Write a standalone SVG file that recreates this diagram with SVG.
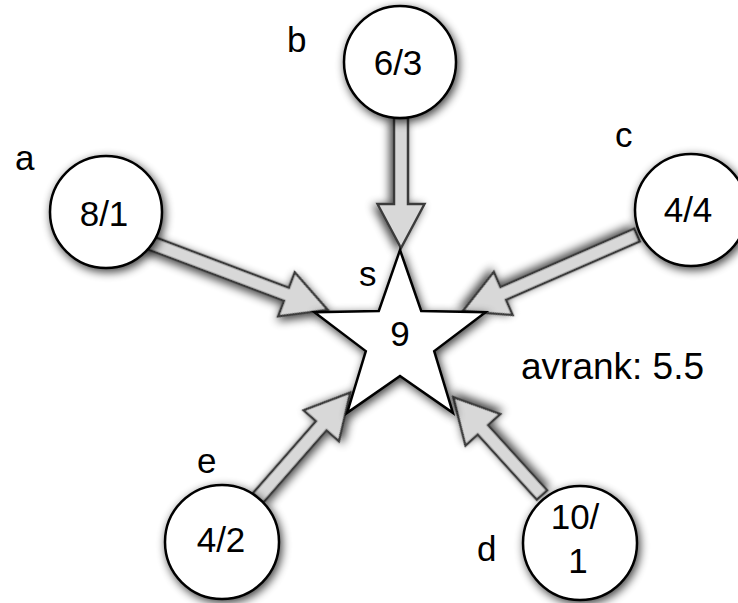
<svg xmlns="http://www.w3.org/2000/svg" width="738" height="603" viewBox="0 0 738 603">
  <defs>
    <filter id="shadow" x="-30%" y="-30%" width="160%" height="160%">
      <feGaussianBlur in="SourceAlpha" stdDeviation="5"/>
      <feOffset dx="2" dy="3" result="b"/>
      <feComponentTransfer><feFuncA type="linear" slope="0.75"/></feComponentTransfer>
      <feMerge><feMergeNode/><feMergeNode in="SourceGraphic"/></feMerge>
    </filter>
  </defs>
  <style>
    .node { fill: #ffffff; stroke: #000000; stroke-width: 2.5; filter: url(#shadow); }
    .arrow { fill: #d8d8d8; stroke: #3a3a3a; stroke-width: 2.5; stroke-linejoin: miter; filter: url(#shadow); }
    text { font-family: "Liberation Sans", Arial, Helvetica, sans-serif; font-size: 35px; fill: #000000; }
    .c { text-anchor: middle; }
    .big { font-size: 37px; }
  </style>
  <rect width="738" height="603" fill="#ffffff"/>
  <g id="connectors">
    <polygon class="arrow" transform="translate(148,242) rotate(20.7)" points="0,-7 148,-7 148,-23.5 192,0 148,23.5 148,7 0,7"/>
    <polygon class="arrow" transform="translate(401,118) rotate(90)" points="0,-7 86,-7 86,-23.5 130,0 86,23.5 86,7 0,7"/>
    <polygon class="arrow" transform="translate(637,235) rotate(156.4)" points="0,-7 146,-7 146,-23.5 190,0 146,23.5 146,7 0,7"/>
    <polygon class="arrow" transform="translate(542,495) rotate(-132.2)" points="0,-7 88,-7 88,-23.5 132,0 88,23.5 88,7 0,7"/>
    <polygon class="arrow" transform="translate(258,498) rotate(-48.8)" points="0,-7 96,-7 96,-23.5 140,0 96,23.5 96,7 0,7"/>
  </g>
  <g id="node-a">
    <circle class="node" cx="106" cy="212" r="56"/>
    <text class="c" x="104" y="226">8/1</text>
    <text x="15" y="170">a</text>
  </g>
  <g id="node-b">
    <circle class="node" cx="400" cy="62" r="56"/>
    <text class="c" x="398" y="75">6/3</text>
    <text x="287" y="52">b</text>
  </g>
  <g id="node-c">
    <circle class="node" cx="691" cy="210" r="56"/>
    <text class="c" x="688" y="222">4/4</text>
    <text x="615" y="147">c</text>
  </g>
  <g id="node-d">
    <circle class="node" cx="580" cy="543" r="57"/>
    <text class="c" x="575" y="529">10/</text>
    <text class="c" x="578" y="573">1</text>
    <text x="477" y="561">d</text>
  </g>
  <g id="node-e">
    <circle class="node" cx="222" cy="542" r="57"/>
    <text class="c" x="221" y="552">4/2</text>
    <text x="197" y="473">e</text>
  </g>
  <g id="node-s">
    <polygon class="node" points="400,250 421.2,310.9 485.6,312.2 434.2,351.1 452.9,412.8 400,376 347.1,412.8 365.8,351.1 314.4,312.2 378.8,310.9"/>
    <text class="c" x="400" y="346">9</text>
    <text x="359" y="286">s</text>
  </g>
  <g id="label-avrank">
    <text class="big" x="521" y="379">avrank: 5.5</text>
  </g>
</svg>
